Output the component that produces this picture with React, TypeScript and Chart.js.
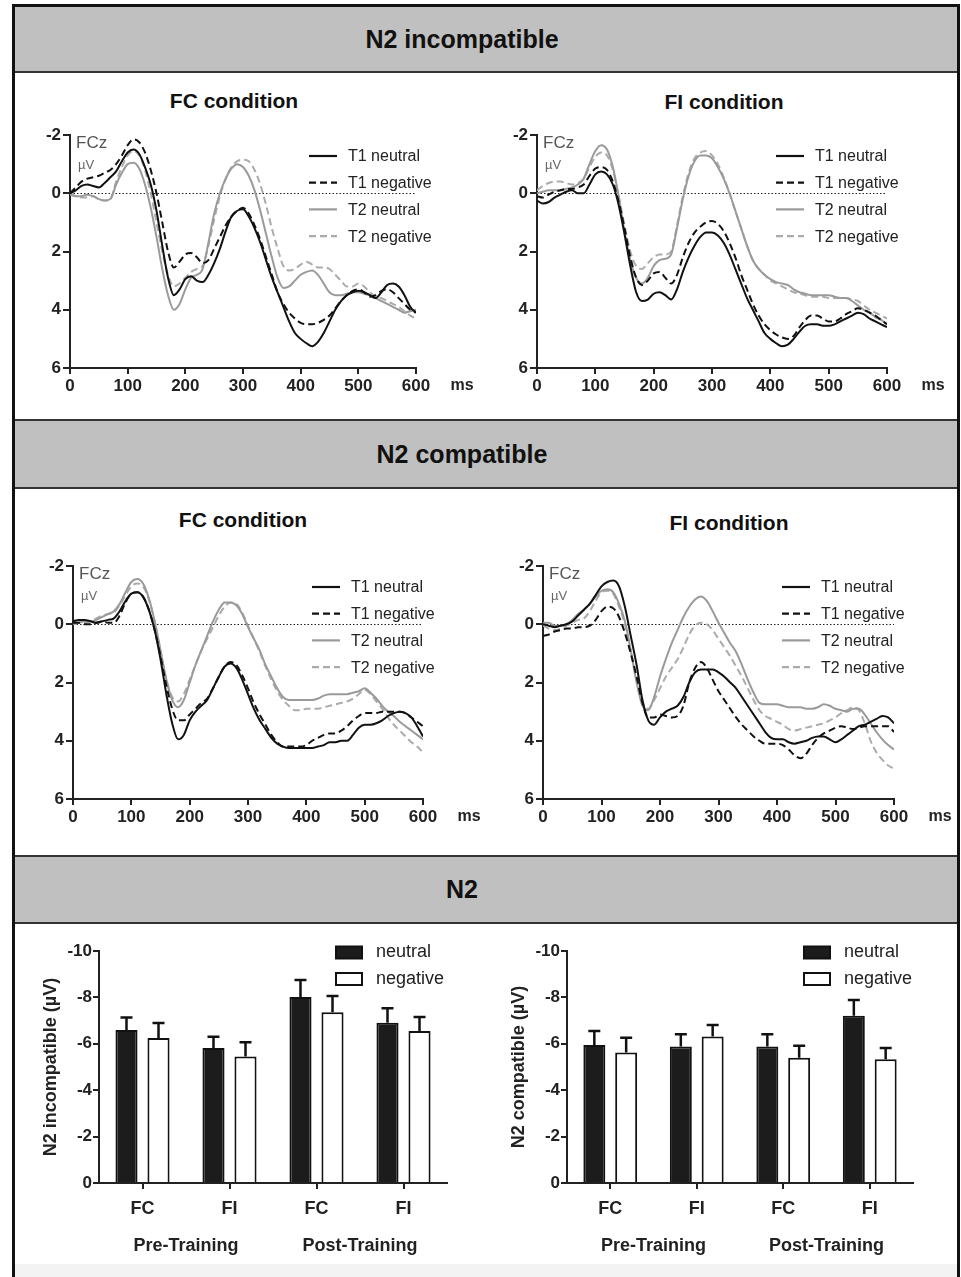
import React, { useEffect, useRef } from "react";
import { Chart, registerables } from "chart.js";

Chart.register(...registerables);

const FONT = "'Liberation Sans', Arial, Helvetica, sans-serif";
Chart.defaults.font.family = FONT;
Chart.defaults.color = "#222";

// ---------- ERP data (µV, positive plotted downward) ----------
const times = [
  0, 10, 20, 30, 40, 50, 60, 70, 80, 90, 100, 110, 120, 130, 140, 150, 160, 170, 180, 190,
  200, 210, 220, 230, 240, 250, 260, 270, 280, 290, 300, 310, 320, 330, 340, 350, 360, 370,
  380, 390, 400, 410, 420, 430, 440, 450, 460, 470, 480, 490, 500, 510, 520, 530, 540, 550,
  560, 570, 580, 590, 600,
];
const erpLabels = ["T1 neutral", "T1 negative", "T2 neutral", "T2 negative"];
const erpYTicks = [-2, 0, 2, 4, 6];

// N2 incompatible, FC condition
const incFC_T1neutral = [
  0, -0.1, -0.25, -0.3, -0.25, -0.2, -0.35, -0.55, -0.75, -1.1, -1.4, -1.5,
  -1.35, -0.9, -0.3, 0.6, 1.8, 2.9, 3.5, 3.3, 2.95, 2.85, 3.0, 3.05,
  2.8, 2.4, 1.9, 1.3, 0.8, 0.6, 0.55, 0.8, 1.2, 1.7, 2.3, 2.9,
  3.4, 3.9, 4.4, 4.8, 5.0, 5.15, 5.25, 5.1, 4.8, 4.4, 4.0, 3.7,
  3.5, 3.4, 3.35, 3.4, 3.5, 3.6, 3.4, 3.15, 3.1, 3.2, 3.5, 3.9, 4.1,
];
const incFC_T1negative = [
  0, -0.2, -0.4, -0.5, -0.55, -0.6, -0.7, -0.8, -1.0, -1.3, -1.65, -1.85,
  -1.75, -1.4, -0.8, 0.0, 1.0, 2.0, 2.55, 2.35, 2.1, 2.05, 2.2, 2.4,
  2.3, 1.9, 1.5, 1.1, 0.8, 0.6, 0.5, 0.7, 1.1, 1.6, 2.2, 2.8,
  3.4, 3.8, 4.1, 4.3, 4.45, 4.5, 4.5, 4.45, 4.35, 4.2, 3.95, 3.7,
  3.5, 3.35, 3.3, 3.4, 3.55, 3.5, 3.35, 3.3, 3.4, 3.6, 3.8, 4.0, 4.1,
];
const incFC_T2neutral = [
  0.05, 0.1, 0.1, 0.05, 0.1, 0.2, 0.25, 0.2, -0.3, -0.7, -1.0, -1.05,
  -0.85, -0.3, 0.5, 1.5, 2.6, 3.5, 4.0, 3.8, 3.3, 2.9, 2.8, 2.6,
  1.7, 0.7, 0.0, -0.5, -0.85, -1.0, -0.9, -0.6, -0.1, 0.6, 1.4, 2.2,
  2.9, 3.25, 3.2, 3.0, 2.8, 2.7, 2.65, 2.8, 3.1, 3.4, 3.5, 3.5,
  3.45, 3.4, 3.4, 3.45, 3.5, 3.6, 3.7, 3.8, 3.9, 4.0, 4.1, 4.05, 4.0,
];
const incFC_T2negative = [
  0, 0.1, 0.15, 0.15, 0.1, 0.2, 0.25, 0.2, -0.4, -0.9, -1.3, -1.45,
  -1.3, -0.8, 0.0, 1.0, 2.0, 2.8, 3.2, 3.1, 2.9, 2.7, 2.6, 2.5,
  1.8, 0.9, 0.1, -0.5, -0.9, -1.1, -1.15, -1.1, -0.8, -0.3, 0.4, 1.2,
  1.9, 2.5, 2.65, 2.6, 2.45, 2.35, 2.45, 2.55, 2.55, 2.6, 2.8, 3.0,
  3.2, 3.2, 3.1, 3.2, 3.4, 3.55, 3.6, 3.7, 3.8, 3.9, 4.05, 4.2, 4.3,
];

// N2 incompatible, FI condition
const incFI_T1neutral = [
  0.25, 0.35, 0.3, 0.15, 0.05, -0.05, -0.1, 0.0, 0.0, -0.3, -0.65, -0.75,
  -0.65, -0.3, 0.4, 1.4, 2.5, 3.4, 3.7, 3.65, 3.45, 3.4, 3.5, 3.65,
  3.3, 2.7, 2.2, 1.8, 1.5, 1.35, 1.35, 1.45, 1.7, 2.1, 2.6, 3.1,
  3.6, 4.0, 4.4, 4.8, 5.0, 5.15, 5.25, 5.2, 5.0, 4.75, 4.55, 4.5,
  4.5, 4.55, 4.55, 4.5, 4.4, 4.3, 4.2, 4.1, 4.15, 4.3, 4.4, 4.5, 4.6,
];
const incFI_T1negative = [
  0.1, 0.15, 0.05, -0.05, -0.1, -0.15, -0.15, -0.2, -0.3, -0.6, -0.85, -0.9,
  -0.8, -0.4, 0.3, 1.2, 2.2, 2.9, 3.15, 3.0, 2.75, 2.7, 2.9, 3.1,
  2.8, 2.2, 1.7, 1.35, 1.15, 1.0, 0.95, 1.05, 1.3, 1.7, 2.2, 2.8,
  3.3, 3.8, 4.2, 4.5, 4.7, 4.85, 4.95, 5.0, 4.9, 4.6, 4.35, 4.2,
  4.2, 4.3, 4.4, 4.4, 4.3, 4.15, 4.05, 3.95, 4.0, 4.1, 4.2, 4.35, 4.5,
];
const incFI_T2neutral = [
  0.0, -0.05, -0.1, -0.1, -0.1, -0.15, -0.2, -0.3, -0.5, -1.0, -1.45, -1.65,
  -1.5, -0.9, 0.1, 1.3, 2.3, 2.9, 3.1, 2.9, 2.5, 2.3, 2.25, 2.1,
  1.2, 0.2, -0.6, -1.1, -1.3, -1.3, -1.2, -0.9, -0.5, 0.0, 0.6, 1.2,
  1.8, 2.3, 2.6, 2.8, 2.95, 3.05, 3.1, 3.15, 3.3, 3.4, 3.45, 3.5,
  3.5, 3.5, 3.5, 3.55, 3.6, 3.6, 3.7, 3.85, 4.0, 4.1, 4.25, 4.35, 4.5,
];
const incFI_T2negative = [
  -0.1, -0.25, -0.35, -0.4, -0.4, -0.35, -0.3, -0.35, -0.5, -0.9, -1.25, -1.4,
  -1.3, -0.8, 0.1, 1.1, 2.0, 2.5, 2.6, 2.4, 2.2, 2.1, 2.1, 2.0,
  1.1, 0.1, -0.7, -1.2, -1.4, -1.45, -1.3, -1.0, -0.55, 0.0, 0.6, 1.2,
  1.8, 2.3, 2.6, 2.8, 3.0, 3.1, 3.2, 3.3, 3.4, 3.45, 3.5, 3.55,
  3.55, 3.55, 3.6, 3.6, 3.6, 3.6, 3.65, 3.7, 3.85, 4.0, 4.1, 4.2, 4.3,
];

// N2 compatible, FC condition
const comFC_T1neutral = [
  -0.1, -0.15, -0.15, -0.1, -0.05, -0.1, -0.15, -0.2, -0.45, -0.8, -1.05, -1.1,
  -0.95, -0.5, 0.2, 1.2, 2.4, 3.4, 3.95, 3.8, 3.3, 3.0, 2.8, 2.6,
  2.2, 1.8, 1.45, 1.35, 1.5, 1.9, 2.4, 2.9, 3.3, 3.6, 3.9, 4.1,
  4.2, 4.25, 4.25, 4.25, 4.25, 4.25, 4.2, 4.15, 4.05, 4.05, 4.0, 4.0,
  3.8, 3.55, 3.45, 3.45, 3.4, 3.3, 3.15, 3.05, 3.0, 3.05, 3.2, 3.5, 3.85,
];
const comFC_T1negative = [
  -0.05, -0.05, 0.0, 0.0, -0.05, -0.1, -0.05, -0.05, -0.3, -0.75, -1.05, -1.1,
  -0.95, -0.5, 0.2, 1.1, 2.1, 2.9, 3.3, 3.3, 3.1, 2.9, 2.7, 2.55,
  2.2, 1.8, 1.45, 1.3, 1.4, 1.75, 2.2, 2.7, 3.1, 3.45, 3.8, 4.05,
  4.2, 4.2, 4.2, 4.2, 4.15, 4.0, 3.9, 3.8, 3.75, 3.75, 3.65, 3.5,
  3.3, 3.15, 3.05, 3.05, 3.05, 3.0, 3.0, 3.0, 3.0, 3.05, 3.2, 3.35, 3.5,
];
const comFC_T2neutral = [
  0.0, -0.05, -0.1, -0.1, -0.15, -0.25, -0.35, -0.45, -0.7, -1.1, -1.45, -1.55,
  -1.4, -0.9, -0.1, 0.9, 1.9, 2.6, 2.85, 2.6, 2.0, 1.4, 0.9, 0.4,
  -0.1, -0.5, -0.75, -0.75, -0.65, -0.35, 0.1, 0.5, 0.9, 1.4, 1.8, 2.2,
  2.5, 2.6, 2.6, 2.6, 2.6, 2.6, 2.55, 2.45, 2.4, 2.4, 2.4, 2.4,
  2.35, 2.3, 2.2, 2.35, 2.55, 2.8, 3.0, 3.15, 3.35, 3.5, 3.65, 3.8, 3.95,
];
const comFC_T2negative = [
  -0.05, -0.05, -0.05, -0.1, -0.2, -0.3, -0.35, -0.4, -0.65, -1.0, -1.3, -1.4,
  -1.3, -0.85, -0.1, 0.9, 1.9, 2.5, 2.65, 2.4, 1.9, 1.4, 0.9, 0.5,
  0.1, -0.3, -0.6, -0.75, -0.7, -0.4, 0.05, 0.5, 0.95, 1.45, 1.9, 2.3,
  2.6, 2.8, 2.95, 2.95, 2.9, 2.9, 2.9, 2.85, 2.8, 2.75, 2.7, 2.65,
  2.55, 2.4, 2.25, 2.4, 2.65, 2.9, 3.2, 3.45, 3.65, 3.85, 4.05, 4.2, 4.4,
];

// N2 compatible, FI condition
const comFI_T1neutral = [
  0.0, 0.05, 0.1, 0.05, 0.0, -0.1, -0.3, -0.5, -0.7, -1.0, -1.3, -1.45,
  -1.5, -1.3, -0.6, 0.4, 1.4, 2.6, 3.3, 3.45, 3.2, 3.0, 2.9, 2.8,
  2.5, 2.0, 1.65, 1.55, 1.55, 1.55, 1.65, 1.8, 2.0, 2.2, 2.5, 2.8,
  3.1, 3.4, 3.7, 3.9, 3.95, 3.95, 4.05, 4.1, 4.05, 4.0, 3.9, 3.85,
  3.85, 3.95, 4.05, 3.95, 3.8, 3.65, 3.5, 3.45, 3.35, 3.25, 3.15, 3.2, 3.4,
];
const comFI_T1negative = [
  0.4, 0.35, 0.25, 0.2, 0.15, 0.15, 0.1, 0.1, 0.05, -0.15, -0.45, -0.6,
  -0.55, -0.25, 0.3, 1.0, 1.8, 2.7, 3.2, 3.2, 3.1, 3.15, 3.2, 3.15,
  2.8, 2.0, 1.5, 1.3, 1.5, 1.9, 2.3, 2.6, 2.9, 3.2, 3.45, 3.65,
  3.85, 4.0, 4.1, 4.1, 4.1, 4.15, 4.3, 4.5, 4.6, 4.45, 4.15, 3.9,
  3.75, 3.65, 3.55, 3.5, 3.55, 3.6, 3.55, 3.5, 3.5, 3.5, 3.5, 3.5, 3.7,
];
const comFI_T2neutral = [
  -0.05, -0.05, 0.05, 0.05, 0.0, -0.15, -0.35, -0.5, -0.7, -0.95, -1.15, -1.2,
  -1.1, -0.7, -0.1, 0.9, 2.0, 2.8, 2.95, 2.5, 1.8, 1.2, 0.65, 0.2,
  -0.25, -0.6, -0.85, -0.95, -0.8, -0.45, -0.05, 0.3, 0.65, 0.95, 1.4, 1.9,
  2.35, 2.7, 2.75, 2.75, 2.75, 2.8, 2.85, 2.85, 2.85, 2.9, 2.9, 2.85,
  2.75, 2.8, 2.9, 2.95, 3.0, 2.9, 2.9, 3.1, 3.4, 3.7, 3.95, 4.15, 4.3,
];
const comFI_T2negative = [
  0.05, 0.15, 0.2, 0.15, 0.05, -0.05, -0.15, -0.2, -0.45, -0.8, -1.1, -1.15,
  -1.05, -0.6, 0.0, 0.9, 1.9, 2.7, 2.9, 2.6, 2.2, 1.8, 1.5, 1.2,
  0.8, 0.35, 0.05, -0.05, 0.0, 0.2, 0.5, 0.8, 1.1, 1.45, 1.8, 2.2,
  2.6, 2.95, 3.15, 3.25, 3.35, 3.45, 3.6, 3.65, 3.6, 3.55, 3.5, 3.45,
  3.4, 3.3, 3.2, 3.05, 2.95, 2.85, 2.95, 3.4, 4.0, 4.4, 4.65, 4.85, 4.95,
];

// ---------- Bar data (N2 amplitude, µV) ----------
const barCategories = ["FC", "FI", "FC", "FI"];
const barGroups = ["Pre-Training", "Post-Training"];
const barSeries = ["neutral", "negative"];
const barYTicks = [-10, -8, -6, -4, -2, 0];

const incNeutral = [-6.6, -5.82, -8.02, -6.91];
const incNeutralSE = [0.53, 0.48, 0.73, 0.62];
const incNegative = [-6.25, -5.45, -7.36, -6.55];
const incNegativeSE = [0.65, 0.62, 0.7, 0.61];

const comNeutral = [-5.95, -5.88, -5.88, -7.21];
const comNeutralSE = [0.6, 0.53, 0.53, 0.68];
const comNegative = [-5.63, -6.31, -5.4, -5.33];
const comNegativeSE = [0.63, 0.5, 0.52, 0.49];

// ---------- helpers ----------
const erpStyles = [
  { color: "#111111", dash: [] as number[] },
  { color: "#111111", dash: [7, 4] },
  { color: "#9a9a9a", dash: [] as number[] },
  { color: "#ababab", dash: [7, 4] },
];

const erpExtras = {
  id: "erpExtras",
  beforeDatasetsDraw(chart: any) {
    const { ctx, scales } = chart;
    const x = scales.x;
    const y = scales.y;
    const yy = Math.round(y.getPixelForValue(0)) + 0.5;
    ctx.save();
    ctx.setLineDash([1.5, 2]);
    ctx.strokeStyle = "#222";
    ctx.lineWidth = 1.2;
    ctx.beginPath();
    ctx.moveTo(x.getPixelForValue(times[0]), yy);
    ctx.lineTo(x.getPixelForValue(times[times.length - 1]), yy);
    ctx.stroke();
    ctx.restore();
  },
  afterDraw(chart: any) {
    const { ctx, chartArea: a } = chart;
    ctx.save();
    ctx.textAlign = "left";
    ctx.textBaseline = "middle";
    ctx.fillStyle = "#555";
    ctx.font = `17px ${FONT}`;
    ctx.fillText("FCz", a.left + 6, a.top + 8);
    ctx.fillStyle = "#666";
    ctx.font = `13px ${FONT}`;
    ctx.fillText("µV", a.left + 8, a.top + 30);
    chart.data.datasets.forEach((ds: any, i: number) => {
      const yy = a.top + 21 + i * 26.7;
      ctx.strokeStyle = ds.borderColor;
      ctx.lineWidth = 2.2;
      ctx.setLineDash(ds.borderDash || []);
      ctx.beginPath();
      ctx.moveTo(a.left + 239, yy);
      ctx.lineTo(a.left + 267, yy);
      ctx.stroke();
      ctx.setLineDash([]);
      ctx.fillStyle = "#222";
      ctx.font = `16px ${FONT}`;
      ctx.fillText(ds.label, a.left + 278, yy + 1);
    });
    ctx.textAlign = "center";
    ctx.font = `bold 16px ${FONT}`;
    ctx.fillStyle = "#222";
    ctx.fillText("ms", a.right + 46, a.bottom + 18);
    ctx.restore();
  },
};

function erpConfig(series: number[][]) {
  return {
    type: "line",
    data: {
      datasets: series.map((s, i) => ({
        label: erpLabels[i],
        data: s.map((v, j) => ({ x: times[j], y: v })),
        borderColor: erpStyles[i].color,
        borderDash: erpStyles[i].dash,
        borderWidth: 2,
        pointRadius: 0,
        fill: false,
        cubicInterpolationMode: "monotone",
      })),
    },
    options: {
      responsive: false,
      maintainAspectRatio: false,
      animation: false,
      events: [],
      layout: { padding: { left: 0, right: 60, top: 14, bottom: 0 } },
      plugins: { legend: { display: false }, tooltip: { enabled: false } },
      scales: {
        x: {
          type: "linear",
          min: times[0],
          max: times[times.length - 1],
          ticks: { stepSize: 100, font: { size: 17, weight: "bold" }, color: "#222", padding: 2, maxRotation: 0 },
          grid: { display: true, drawOnChartArea: false, drawTicks: true, tickLength: 6, color: "#222", lineWidth: 2 },
          border: { display: true, color: "#222", width: 2 },
          afterFit: (s: any) => { s.height = 32; },
        },
        y: {
          type: "linear",
          min: erpYTicks[0],
          max: erpYTicks[erpYTicks.length - 1],
          reverse: true,
          afterBuildTicks: (s: any) => { s.ticks = erpYTicks.map((v) => ({ value: v })); },
          ticks: { font: { size: 17, weight: "bold" }, color: "#222", padding: 2 },
          grid: { display: true, drawOnChartArea: false, drawTicks: true, tickLength: 7, color: "#222", lineWidth: 2 },
          border: { display: true, color: "#222", width: 2 },
          afterFit: (s: any) => { s.width = 44; },
        },
      },
    },
    plugins: [erpExtras],
  };
}

function barConfig(neutral: number[], neutralSE: number[], negative: number[], negativeSE: number[], yTitle: string) {
  const errs = [neutralSE, negativeSE];
  const barExtras = {
    id: "barExtras",
    afterDatasetsDraw(chart: any) {
      const { ctx, scales, chartArea: a } = chart;
      const y = scales.y;
      ctx.save();
      chart.data.datasets.forEach((ds: any, i: number) => {
        const meta = chart.getDatasetMeta(i);
        meta.data.forEach((bar: any, j: number) => {
          const v = ds.data[j];
          const y0 = y.getPixelForValue(v);
          const y1 = y.getPixelForValue(v - errs[i][j]);
          ctx.strokeStyle = "#111";
          ctx.lineWidth = 2.5;
          ctx.beginPath();
          ctx.moveTo(bar.x, y0);
          ctx.lineTo(bar.x, y1);
          ctx.moveTo(bar.x - 6, y1);
          ctx.lineTo(bar.x + 6, y1);
          ctx.stroke();
        });
      });
      // legend
      chart.data.datasets.forEach((ds: any, i: number) => {
        const cy = a.top + 1.5 + i * 26.5;
        ctx.fillStyle = ds.backgroundColor;
        ctx.fillRect(a.left + 237, cy - 6, 26, 12);
        ctx.strokeStyle = "#111";
        ctx.lineWidth = 2;
        ctx.strokeRect(a.left + 237, cy - 6, 26, 12);
        ctx.fillStyle = "#222";
        ctx.font = `18px ${FONT}`;
        ctx.textAlign = "left";
        ctx.textBaseline = "middle";
        ctx.fillText(ds.label, a.left + 277, cy);
      });
      ctx.restore();
    },
  };
  return {
    type: "bar",
    data: {
      labels: barCategories,
      datasets: [
        { label: barSeries[0], data: neutral, backgroundColor: "#1c1c1c", borderColor: "#111", borderWidth: 2 },
        { label: barSeries[1], data: negative, backgroundColor: "#ffffff", borderColor: "#111", borderWidth: 2 },
      ],
    },
    options: {
      responsive: false,
      maintainAspectRatio: false,
      animation: false,
      events: [],
      layout: { padding: { left: 0, right: 10, top: 21, bottom: 0 } },
      datasets: { bar: { categoryPercentage: 0.736, barPercentage: 0.69 } },
      plugins: { legend: { display: false }, tooltip: { enabled: false } },
      scales: {
        x: {
          type: "category",
          weight: 0,
          ticks: { font: { size: 18, weight: "bold" }, color: "#222", padding: 9, maxRotation: 0 },
          grid: { display: true, offset: false, drawOnChartArea: false, drawTicks: true, tickLength: 6, color: "#222", lineWidth: 2 },
          border: { display: true, color: "#222", width: 2 },
          afterFit: (s: any) => { s.height = 38; },
        },
        x2: {
          type: "category",
          position: "bottom",
          weight: 1,
          labels: barGroups,
          offset: true,
          ticks: { font: { size: 18, weight: "bold" }, color: "#222", padding: 14, maxRotation: 0 },
          grid: { display: false, drawTicks: false },
          border: { display: false },
          afterFit: (s: any) => { s.height = 41; },
        },
        y: {
          type: "linear",
          min: barYTicks[0],
          max: barYTicks[barYTicks.length - 1],
          reverse: true,
          afterBuildTicks: (s: any) => { s.ticks = barYTicks.map((v) => ({ value: v })); },
          ticks: { font: { size: 17, weight: "bold" }, color: "#222", padding: 1 },
          grid: { display: true, drawOnChartArea: false, drawTicks: true, tickLength: 6, color: "#222", lineWidth: 2 },
          border: { display: true, color: "#222", width: 2 },
          title: { display: true, text: yTitle, font: { size: 18, weight: "bold" }, color: "#222", padding: { top: 10, bottom: 0 } },
          afterFit: (s: any) => { s.width = 69; },
        },
      },
    },
    plugins: [barExtras],
  };
}

function ChartBox({ left, top, width, height, config }: any) {
  const ref = useRef<HTMLCanvasElement>(null);
  useEffect(() => {
    const chart = new Chart(ref.current as HTMLCanvasElement, config);
    return () => chart.destroy();
  }, []);
  return (
    <div style={{ position: "absolute", left, top, width, height }}>
      <canvas ref={ref} width={width} height={height} style={{ width, height, display: "block" }} />
    </div>
  );
}

function Header({ top, height, text, topBorder }: any) {
  return (
    <div
      style={{
        position: "absolute",
        left: 15,
        top,
        width: 942,
        height,
        boxSizing: "border-box",
        background: "#c0c0c0",
        borderTop: topBorder ? "2px solid #333" : "none",
        borderBottom: "2px solid #333",
      }}
    >
      <div
        style={{
          position: "absolute",
          left: -15,
          top: 0,
          width: 924,
          height: "100%",
          display: "flex",
          alignItems: "center",
          justifyContent: "center",
          font: `bold 25px ${FONT}`,
          color: "#111",
        }}
      >
        {text}
      </div>
    </div>
  );
}

function SubTitle({ cx, cy, text }: any) {
  return (
    <div
      style={{
        position: "absolute",
        left: cx - 150,
        top: cy - 14,
        width: 300,
        height: 28,
        lineHeight: "28px",
        textAlign: "center",
        font: `bold 21px ${FONT}`,
        color: "#111",
      }}
    >
      {text}
    </div>
  );
}

export default function App() {
  return (
    <div style={{ position: "absolute", left: 0, top: 0, width: 961, height: 1277, overflow: "hidden", background: "#fff", fontFamily: FONT }}>
      <div
        style={{
          position: "absolute",
          left: 12,
          top: 4,
          width: 948,
          height: 1273,
          boxSizing: "border-box",
          borderLeft: "3px solid #111",
          borderRight: "3px solid #111",
          borderTop: "3px solid #111",
        }}
      />
      <div style={{ position: "absolute", left: 15, top: 1264, width: 942, height: 13, background: "#f3f3f3" }} />

      <Header top={7} height={66} text="N2 incompatible" topBorder={false} />
      <Header top={419} height={70} text="N2 compatible" topBorder={true} />
      <Header top={855} height={69} text="N2" topBorder={true} />

      <SubTitle cx={234} cy={103} text="FC condition" />
      <SubTitle cx={724} cy={104} text="FI condition" />
      <SubTitle cx={243} cy={522} text="FC condition" />
      <SubTitle cx={729} cy={525} text="FI condition" />

      <ChartBox left={26} top={121} width={450} height={279}
        config={erpConfig([incFC_T1neutral, incFC_T1negative, incFC_T2neutral, incFC_T2negative])} />
      <ChartBox left={493} top={121} width={454} height={279}
        config={erpConfig([incFI_T1neutral, incFI_T1negative, incFI_T2neutral, incFI_T2negative])} />
      <ChartBox left={29} top={552} width={454} height={279}
        config={erpConfig([comFC_T1neutral, comFC_T1negative, comFC_T2neutral, comFC_T2negative])} />
      <ChartBox left={499} top={552} width={455} height={279}
        config={erpConfig([comFI_T1neutral, comFI_T1negative, comFI_T2neutral, comFI_T2negative])} />

      <ChartBox left={30} top={930} width={427} height={332}
        config={barConfig(incNeutral, incNeutralSE, incNegative, incNegativeSE, "N2 incompatible (µV)")} />
      <ChartBox left={498} top={930} width={425} height={332}
        config={barConfig(comNeutral, comNeutralSE, comNegative, comNegativeSE, "N2 compatible (µV)")} />
    </div>
  );
}
